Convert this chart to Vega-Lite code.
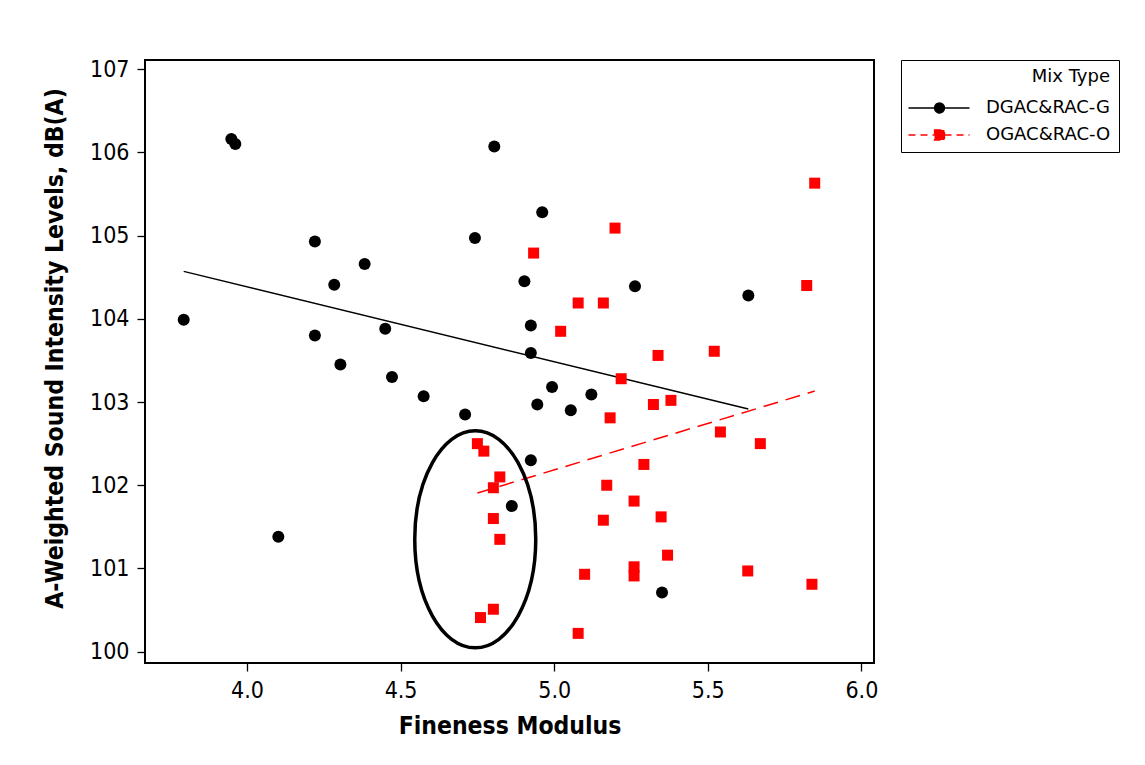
{
  "$schema": "https://vega.github.io/schema/vega-lite/v6.json",
  "autosize": {"type": "none"},
  "padding": {"left": 145, "top": 60, "right": 271, "bottom": 102},
  "width": 729,
  "height": 603,
  "background": "white",
  "config": {
    "view": {"stroke": "black", "strokeWidth": 2},
    "font": "DejaVu Sans Condensed",
    "axis": {
      "grid": false,
      "domain": false,
      "tickColor": "black",
      "tickSize": 8,
      "tickWidth": 1.3,
      "labelColor": "black",
      "labelFont": "DejaVu Sans Condensed",
      "labelFontSize": 23,
      "titleColor": "black",
      "titleFont": "DejaVu Sans Condensed",
      "titleFontSize": 24.5,
      "titleFontWeight": "bold"
    },
    "legend": {
      "labelFont": "DejaVu Sans",
      "titleFont": "DejaVu Sans",
      "orient": "right",
      "offset": 27,
      "padding": 8,
      "strokeColor": "black",
      "titleAnchor": "end",
      "titleAlign": "right",
      "titleFontSize": 18,
      "titleFontWeight": "normal",
      "titleColor": "black",
      "titlePadding": 13,
      "labelFontSize": 18,
      "labelColor": "black",
      "labelOffset": 59,
      "rowPadding": 9,
      "symbolSize": 100,
      "symbolOpacity": 1,
      "symbolStrokeWidth": 1.3
    }
  },
  "data": {
    "values": [
      {"type": "DGAC&RAC-G", "x": 3.949, "y": 106.16},
      {"type": "DGAC&RAC-G", "x": 3.962, "y": 106.10},
      {"type": "DGAC&RAC-G", "x": 4.805, "y": 106.07},
      {"type": "DGAC&RAC-G", "x": 4.221, "y": 104.93},
      {"type": "DGAC&RAC-G", "x": 4.742, "y": 104.97},
      {"type": "DGAC&RAC-G", "x": 4.383, "y": 104.66},
      {"type": "DGAC&RAC-G", "x": 4.284, "y": 104.41},
      {"type": "DGAC&RAC-G", "x": 3.794, "y": 103.99},
      {"type": "DGAC&RAC-G", "x": 4.221, "y": 103.80},
      {"type": "DGAC&RAC-G", "x": 4.450, "y": 103.88},
      {"type": "DGAC&RAC-G", "x": 4.304, "y": 103.45},
      {"type": "DGAC&RAC-G", "x": 4.472, "y": 103.30},
      {"type": "DGAC&RAC-G", "x": 4.575, "y": 103.07},
      {"type": "DGAC&RAC-G", "x": 4.710, "y": 102.85},
      {"type": "DGAC&RAC-G", "x": 4.961, "y": 105.28},
      {"type": "DGAC&RAC-G", "x": 4.903, "y": 104.45},
      {"type": "DGAC&RAC-G", "x": 5.263, "y": 104.39},
      {"type": "DGAC&RAC-G", "x": 5.632, "y": 104.28},
      {"type": "DGAC&RAC-G", "x": 4.924, "y": 103.92},
      {"type": "DGAC&RAC-G", "x": 4.924, "y": 103.59},
      {"type": "DGAC&RAC-G", "x": 4.993, "y": 103.18},
      {"type": "DGAC&RAC-G", "x": 5.121, "y": 103.09},
      {"type": "DGAC&RAC-G", "x": 4.945, "y": 102.97},
      {"type": "DGAC&RAC-G", "x": 5.054, "y": 102.90},
      {"type": "DGAC&RAC-G", "x": 4.924, "y": 102.30},
      {"type": "DGAC&RAC-G", "x": 4.862, "y": 101.75},
      {"type": "DGAC&RAC-G", "x": 5.351, "y": 100.71},
      {"type": "DGAC&RAC-G", "x": 4.102, "y": 101.38},
      {"type": "OGAC&RAC-O", "x": 5.848, "y": 105.63},
      {"type": "OGAC&RAC-O", "x": 5.198, "y": 105.09},
      {"type": "OGAC&RAC-O", "x": 4.933, "y": 104.79},
      {"type": "OGAC&RAC-O", "x": 5.078, "y": 104.19},
      {"type": "OGAC&RAC-O", "x": 5.160, "y": 104.19},
      {"type": "OGAC&RAC-O", "x": 5.822, "y": 104.40},
      {"type": "OGAC&RAC-O", "x": 5.021, "y": 103.85},
      {"type": "OGAC&RAC-O", "x": 5.521, "y": 103.61},
      {"type": "OGAC&RAC-O", "x": 5.338, "y": 103.56},
      {"type": "OGAC&RAC-O", "x": 5.218, "y": 103.28},
      {"type": "OGAC&RAC-O", "x": 5.323, "y": 102.97},
      {"type": "OGAC&RAC-O", "x": 5.380, "y": 103.02},
      {"type": "OGAC&RAC-O", "x": 5.182, "y": 102.81},
      {"type": "OGAC&RAC-O", "x": 5.541, "y": 102.64},
      {"type": "OGAC&RAC-O", "x": 5.671, "y": 102.50},
      {"type": "OGAC&RAC-O", "x": 4.750, "y": 102.50},
      {"type": "OGAC&RAC-O", "x": 4.771, "y": 102.41},
      {"type": "OGAC&RAC-O", "x": 5.292, "y": 102.25},
      {"type": "OGAC&RAC-O", "x": 4.823, "y": 102.10},
      {"type": "OGAC&RAC-O", "x": 4.802, "y": 101.97},
      {"type": "OGAC&RAC-O", "x": 5.171, "y": 102.00},
      {"type": "OGAC&RAC-O", "x": 5.260, "y": 101.81},
      {"type": "OGAC&RAC-O", "x": 4.802, "y": 101.60},
      {"type": "OGAC&RAC-O", "x": 5.160, "y": 101.58},
      {"type": "OGAC&RAC-O", "x": 5.348, "y": 101.62},
      {"type": "OGAC&RAC-O", "x": 4.823, "y": 101.35},
      {"type": "OGAC&RAC-O", "x": 5.369, "y": 101.16},
      {"type": "OGAC&RAC-O", "x": 5.099, "y": 100.93},
      {"type": "OGAC&RAC-O", "x": 5.260, "y": 101.02},
      {"type": "OGAC&RAC-O", "x": 5.260, "y": 100.91},
      {"type": "OGAC&RAC-O", "x": 5.630, "y": 100.97},
      {"type": "OGAC&RAC-O", "x": 5.839, "y": 100.81},
      {"type": "OGAC&RAC-O", "x": 4.802, "y": 100.51},
      {"type": "OGAC&RAC-O", "x": 4.760, "y": 100.41},
      {"type": "OGAC&RAC-O", "x": 5.078, "y": 100.22}
    ]
  },
  "layer": [
    {
      "transform": [
        {"filter": "datum.type === 'DGAC&RAC-G'"},
        {"regression": "y", "on": "x"}
      ],
      "mark": {"type": "line", "strokeWidth": 1.4, "color": "black"},
      "encoding": {
        "x": {"field": "x", "type": "quantitative"},
        "y": {"field": "y", "type": "quantitative"}
      }
    },
    {
      "transform": [
        {"filter": "datum.type === 'OGAC&RAC-O'"},
        {"regression": "y", "on": "x"}
      ],
      "mark": {"type": "line", "strokeWidth": 1.5, "color": "red", "strokeDash": [15, 8]},
      "encoding": {
        "x": {"field": "x", "type": "quantitative"},
        "y": {"field": "y", "type": "quantitative"}
      }
    },
    {
      "transform": [{"filter": "datum.type === 'DGAC&RAC-G'"}],
      "mark": {"type": "point", "shape": "circle", "size": 144, "filled": true, "color": "black", "opacity": 1},
      "encoding": {
        "x": {
          "field": "x",
          "type": "quantitative",
          "title": "Fineness Modulus",
          "scale": {"domain": [3.668, 6.041], "nice": false, "zero": false},
          "axis": {"values": [4, 4.5, 5, 5.5, 6], "format": ".1f", "labelPadding": 8, "titlePadding": 12}
        },
        "y": {
          "field": "y",
          "type": "quantitative",
          "title": "A-Weighted Sound Intensity Levels, dB(A)",
          "scale": {"domain": [99.864, 107.11], "nice": false, "zero": false},
          "axis": {"values": [100, 101, 102, 103, 104, 105, 106, 107], "format": "d", "labelPadding": 8, "titlePadding": 22, "titleY": 288}
        }
      }
    },
    {
      "transform": [{"filter": "datum.type === 'OGAC&RAC-O'"}],
      "mark": {"type": "point", "shape": "square", "size": 121, "filled": true, "color": "red", "opacity": 1},
      "encoding": {
        "x": {"field": "x", "type": "quantitative"},
        "y": {"field": "y", "type": "quantitative"}
      }
    },
    {
      "mark": {"type": "point", "filled": true, "opacity": 0},
      "encoding": {
        "x": {"field": "x", "type": "quantitative"},
        "y": {"field": "y", "type": "quantitative"},
        "color": {
          "field": "type",
          "type": "nominal",
          "title": "Mix Type",
          "scale": {"domain": ["DGAC&RAC-G", "OGAC&RAC-O"], "range": ["black", "red"]}
        },
        "stroke": {
          "field": "type",
          "type": "nominal",
          "title": "Mix Type",
          "scale": {"domain": ["DGAC&RAC-G", "OGAC&RAC-O"], "range": ["black", "red"]}
        },
        "shape": {
          "field": "type",
          "type": "nominal",
          "title": "Mix Type",
          "scale": {
            "domain": ["DGAC&RAC-G", "OGAC&RAC-O"],
            "range": [
              "M-1.9,0L10.3,0M5.3,0C5.3,0.5523,4.8523,1,4.3,1C3.7477,1,3.3,0.5523,3.3,0C3.3,-0.5523,3.7477,-1,4.3,-1C4.8523,-1,5.3,-0.5523,5.3,0Z",
              "M-1.9,0L10.3,0M3.3,-1L5.3,-1L5.3,1L3.3,1Z"
            ]
          }
        },
        "strokeDash": {
          "field": "type",
          "type": "nominal",
          "title": "Mix Type",
          "scale": {"domain": ["DGAC&RAC-G", "OGAC&RAC-O"], "range": [[1, 0], [7, 5]]}
        }
      }
    },
    {
      "data": {"values": [{"x": 4.743, "y": 101.35}]},
      "mark": {
        "type": "point",
        "shape": "M0,-1C0.308,-1,0.5576,-0.5523,0.5576,0C0.5576,0.5523,0.308,1,0,1C-0.308,1,-0.5576,0.5523,-0.5576,0C-0.5576,-0.5523,-0.308,-1,0,-1Z",
        "size": 47089,
        "filled": false,
        "stroke": "black",
        "strokeWidth": 3.5,
        "opacity": 1
      },
      "encoding": {
        "x": {"field": "x", "type": "quantitative"},
        "y": {"field": "y", "type": "quantitative"}
      }
    }
  ]
}
